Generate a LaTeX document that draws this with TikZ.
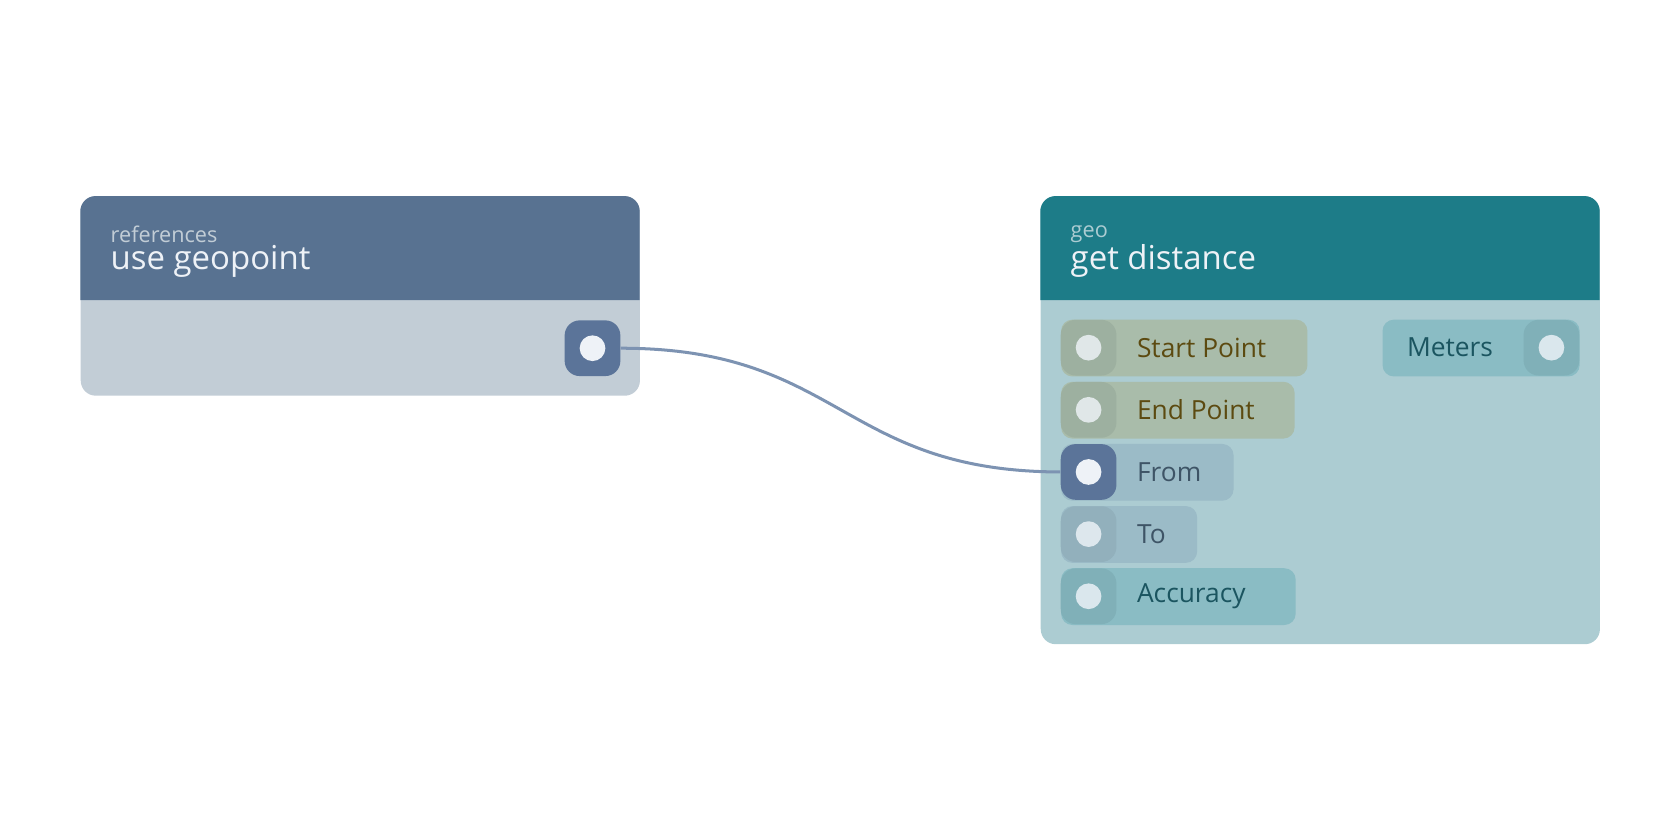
\documentclass[tikz,border=0pt]{standalone}
\usepackage{fontspec}
\setmainfont{Open Sans}
\usetikzlibrary{positioning}
\definecolor{refhead}{HTML}{587291}
\definecolor{refbody}{HTML}{C2CDD6}
\definecolor{geohead}{HTML}{1D7C88}
\definecolor{geobody}{HTML}{ACCCD2}
\definecolor{portblue}{HTML}{5B7499}
\definecolor{portdot}{HTML}{EEF2F7}
\definecolor{pillolive}{HTML}{A9BCAA}
\definecolor{portolive}{HTML}{9DB0A0}
\definecolor{textolive}{HTML}{5C4A10}
\definecolor{pillgrey}{HTML}{9BBBC7}
\definecolor{portgrey}{HTML}{92B0BC}
\definecolor{textgrey}{HTML}{3E5466}
\definecolor{pillteal}{HTML}{8ABCC4}
\definecolor{portteal}{HTML}{80B0B8}
\definecolor{textteal}{HTML}{1B5560}
\definecolor{wire}{HTML}{7D93B2}
\begin{document}
\begin{tikzpicture}[x=0.02cm, y=-0.02cm,
    box/.style={rectangle, rounded corners=8, inner sep=0, anchor=north west},
    pill/.style={rectangle, rounded corners=6, inner sep=0, anchor=north west, minimum height=1.06cm},
    sq/.style={rectangle, rounded corners=8, inner sep=0, minimum size=1.04cm},
    dot/.style={circle, inner sep=0, minimum size=0.48cm},
    lbl/.style={anchor=west, font=\fontsize{14}{16}\selectfont},
    kind/.style={anchor=south west, font=\fontsize{11.5}{12}\selectfont, inner sep=0},
    title/.style={anchor=south west, font=\fontsize{17.5}{20}\selectfont, text=portdot, inner sep=0}
]
\useasboundingbox (0,0) rectangle (1568,784);

% references node
\node[box, fill=refbody, minimum width=10.44cm, minimum height=3.72cm] (refbox) at (75,183) {};
\fill[refhead] (75,280) -- (75,195) [rounded corners=8] -- (75,183) -- (597,183) [sharp corners] -- (597,280) -- cycle;
\node[kind, text=refbody] (refkind) at (103,227) {references};
\node[title] (reftitle) at (103,259) {use geopoint};
\node[sq, fill=portblue] (refport) at (553,325) {};
\node[dot, fill=portdot] (refdot) at (refport) {};

% geo node
\node[box, fill=geobody, minimum width=10.44cm, minimum height=8.36cm] (geobox) at (971,183) {};
\fill[geohead] (971,280) -- (971,195) [rounded corners=8] -- (971,183) -- (1493,183) [sharp corners] -- (1493,280) -- cycle;
\node[kind, text=geobody] (geokind) at (999,227) {geo};
\node[title] (geotitle) at (999,259) {get distance};

% inputs
\node[pill, fill=pillolive, minimum width=4.6cm] (start) at (990,298) {};
\node[sq, fill=portolive] (startport) at (1016,324.5) {};
\node[dot, fill=portdot!80!pillolive] at (startport) {};
\node[lbl, text=textolive] at (1055,324.5) {Start Point};

\node[pill, fill=pillolive, minimum width=4.36cm] (end) at (990,356) {};
\node[sq, fill=portolive] (endport) at (1016,382.5) {};
\node[dot, fill=portdot!80!pillolive] at (endport) {};
\node[lbl, text=textolive] at (1055,382.5) {End Point};

\node[pill, fill=pillgrey, minimum width=3.22cm] (from) at (990,414) {};
\node[sq, fill=portblue] (fromport) at (1016,440.5) {};
\node[dot, fill=portdot] at (fromport) {};
\node[lbl, text=textgrey] at (1055,440.5) {From};

\node[pill, fill=pillgrey, minimum width=2.54cm] (to) at (990,472) {};
\node[sq, fill=portgrey] (toport) at (1016,498.5) {};
\node[dot, fill=portdot!80!pillgrey] at (toport) {};
\node[lbl, text=textgrey] at (1055,498.5) {To};

\node[pill, fill=pillteal, minimum width=4.38cm] (acc) at (990,530) {};
\node[sq, fill=portteal] (accport) at (1016,556.5) {};
\node[dot, fill=portdot!80!pillteal] at (accport) {};
\node[lbl, text=textteal] at (1055,556.5) {Accuracy};

% output
\node[pill, fill=pillteal, minimum width=3.68cm] (meters) at (1290,298) {};
\node[sq, fill=portteal] (metersport) at (1448,324.5) {};
\node[dot, fill=portdot!80!pillteal] at (metersport) {};
\node[lbl, text=textteal] at (1307,324.5) {Meters};

% wire
\draw[wire, line width=1.6pt] (refport.east) .. controls (785,325) and (785,440) .. (fromport.west);
\end{tikzpicture}
\end{document}
